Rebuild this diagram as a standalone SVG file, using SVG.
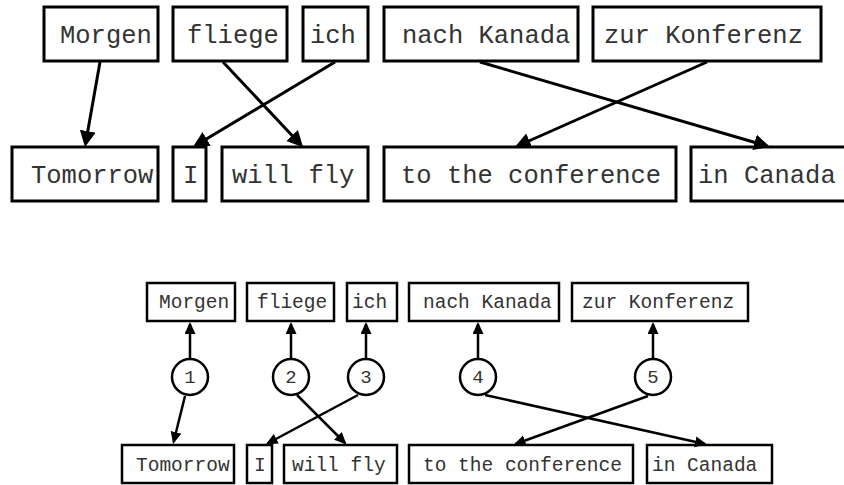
<svg xmlns="http://www.w3.org/2000/svg" width="844" height="485" viewBox="0 0 844 485">
  <defs>
    <marker id="headL" markerUnits="userSpaceOnUse" markerWidth="18" markerHeight="18" refX="13" refY="8" orient="auto">
      <path d="M0,0 L16,8 L0,16 z" fill="#000"/>
    </marker>
    <marker id="headS" markerUnits="userSpaceOnUse" markerWidth="14" markerHeight="12" refX="10" refY="5.5" orient="auto">
      <path d="M0,0 L12,5.5 L0,11 z" fill="#000"/>
    </marker>
  </defs>
  <style>
    .boxL { fill: #fff; stroke: #000; stroke-width: 3; }
    .boxS { fill: #fff; stroke: #000; stroke-width: 2.5; }
    .txtL { font-family: "Liberation Mono", "DejaVu Sans Mono", monospace; font-size: 25.5px; fill: #333; }
    .txtS { font-family: "Liberation Mono", "DejaVu Sans Mono", monospace; font-size: 19.5px; fill: #333; }
    .num { font-family: "Liberation Mono", "DejaVu Sans Mono", monospace; font-size: 19px; fill: #333; text-anchor: middle; }
    .circ { fill: #fff; stroke: #000; stroke-width: 2.5; }
    .edgeL { fill: none; stroke: #000; stroke-width: 3; marker-end: url(#headL); }
    .edgeS { fill: none; stroke: #000; stroke-width: 2.5; marker-end: url(#headS); }
  </style>
  <rect width="844" height="485" fill="#fff"/>

  <!-- upper alignment: German source phrases -->
  <g id="de-morgen"><rect class="boxL" x="44" y="7" width="114" height="54"/><text class="txtL" x="60" y="43">Morgen</text></g>
  <g id="de-fliege"><rect class="boxL" x="173" y="7" width="114" height="54"/><text class="txtL" x="187" y="43">fliege</text></g>
  <g id="de-ich"><rect class="boxL" x="303" y="7" width="65" height="54"/><text class="txtL" x="310" y="43">ich</text></g>
  <g id="de-nach-kanada"><rect class="boxL" x="384" y="7" width="194" height="54"/><text class="txtL" x="402" y="43">nach Kanada</text></g>
  <g id="de-zur-konferenz"><rect class="boxL" x="593" y="7" width="228" height="54"/><text class="txtL" x="604" y="43">zur Konferenz</text></g>

  <!-- upper alignment: English target phrases -->
  <g id="en-tomorrow"><rect class="boxL" x="12" y="147" width="146" height="54"/><text class="txtL" x="31" y="183">Tomorrow</text></g>
  <g id="en-i"><rect class="boxL" x="173" y="147" width="33" height="54"/><text class="txtL" x="183" y="183">I</text></g>
  <g id="en-will-fly"><rect class="boxL" x="222" y="147" width="146" height="54"/><text class="txtL" x="232" y="183">will fly</text></g>
  <g id="en-to-the-conference"><rect class="boxL" x="384" y="147" width="292" height="54"/><text class="txtL" x="401" y="183">to the conference</text></g>
  <g id="en-in-canada"><rect class="boxL" x="691" y="147" width="160" height="54"/><text class="txtL" x="698" y="183">in Canada</text></g>

  <!-- lower alignment: German source phrases -->
  <g id="src-morgen"><rect class="boxS" x="147" y="283" width="88" height="38"/><text class="txtS" x="159" y="308">Morgen</text></g>
  <g id="src-fliege"><rect class="boxS" x="247" y="283" width="87" height="38"/><text class="txtS" x="257" y="308">fliege</text></g>
  <g id="src-ich"><rect class="boxS" x="347" y="283" width="50" height="38"/><text class="txtS" x="352" y="308">ich</text></g>
  <g id="src-nach-kanada"><rect class="boxS" x="409" y="283" width="150" height="38"/><text class="txtS" x="423" y="308">nach Kanada</text></g>
  <g id="src-zur-konferenz"><rect class="boxS" x="572" y="283" width="176" height="38"/><text class="txtS" x="582" y="308">zur Konferenz</text></g>

  <!-- lower alignment: numbered phrase pairs -->
  <g id="pair-1"><circle class="circ" cx="190" cy="377" r="18"/><text class="num" x="190" y="383">1</text></g>
  <g id="pair-2"><circle class="circ" cx="291" cy="377" r="18"/><text class="num" x="291" y="383">2</text></g>
  <g id="pair-3"><circle class="circ" cx="366" cy="377" r="18"/><text class="num" x="366" y="383">3</text></g>
  <g id="pair-4"><circle class="circ" cx="478" cy="377" r="18"/><text class="num" x="478" y="383">4</text></g>
  <g id="pair-5"><circle class="circ" cx="653" cy="377" r="18"/><text class="num" x="653" y="383">5</text></g>

  <!-- lower alignment: English target phrases -->
  <g id="tgt-tomorrow"><rect class="boxS" x="122" y="445" width="112" height="38"/><text class="txtS" x="136" y="471">Tomorrow</text></g>
  <g id="tgt-i"><rect class="boxS" x="247" y="445" width="25" height="38"/><text class="txtS" x="254" y="471">I</text></g>
  <g id="tgt-will-fly"><rect class="boxS" x="284" y="445" width="113" height="38"/><text class="txtS" x="292" y="471">will fly</text></g>
  <g id="tgt-to-the-conference"><rect class="boxS" x="409" y="445" width="224" height="38"/><text class="txtS" x="423" y="471">to the conference</text></g>
  <g id="tgt-in-canada"><rect class="boxS" x="647" y="445" width="125" height="38"/><text class="txtS" x="652" y="471">in Canada</text></g>

  <g id="connectors">
    <!-- word alignment links -->
    <line class="edgeL" x1="100" y1="62" x2="85.5" y2="144"/>
    <line class="edgeL" x1="223" y1="62" x2="301" y2="145"/>
    <line class="edgeL" x1="335" y1="62" x2="195.5" y2="145.5"/>
    <line class="edgeL" x1="480" y1="62" x2="767" y2="146"/>
    <line class="edgeL" x1="707" y1="62" x2="517.5" y2="146"/>

    <!-- phrase pairs to source phrases -->
    <line class="edgeS" x1="190" y1="359" x2="190" y2="324"/>
    <line class="edgeS" x1="291" y1="359" x2="291" y2="324"/>
    <line class="edgeS" x1="366" y1="359" x2="366" y2="324"/>
    <line class="edgeS" x1="478" y1="359" x2="478" y2="324"/>
    <line class="edgeS" x1="653" y1="359" x2="653" y2="324"/>

    <!-- phrase pairs to target phrases -->
    <line class="edgeS" x1="185" y1="396" x2="173.6" y2="442"/>
    <line class="edgeS" x1="297" y1="395" x2="345" y2="443"/>
    <line class="edgeS" x1="358" y1="395" x2="267.5" y2="443.5"/>
    <line class="edgeS" x1="485" y1="395" x2="705" y2="444"/>
    <line class="edgeS" x1="648" y1="396" x2="515.5" y2="444"/>
  </g>
</svg>
